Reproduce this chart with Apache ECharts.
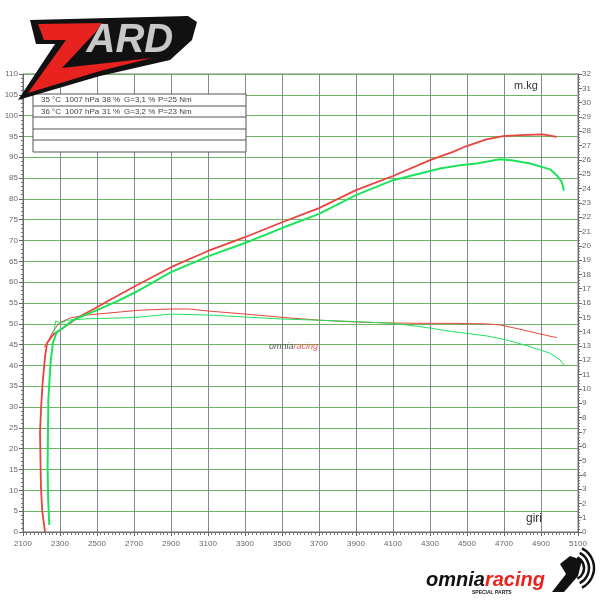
<!DOCTYPE html>
<html>
<head>
<meta charset="utf-8">
<script src="https://cdn.jsdelivr.net/npm/echarts@6/dist/echarts.min.js"></script>
<style>
  html, body { margin: 0; padding: 0; background: #fff; }
  #chart { width: 600px; height: 600px; }
</style>
</head>
<body>
<div id="chart"></div>
<script>
// run 1 (red) and run 2 (green): power on the left axis, torque (m.kg) on the right one
const powerRpm1 = [2219, 2204, 2197, 2192, 2198, 2206, 2219, 2230, 2262, 2316, 2392, 2480, 2559, 2700, 2900, 3100, 3300, 3500, 3700, 3900, 4100, 4300, 4424, 4498, 4606, 4694, 4786, 4911, 4985]
const powerVal1 = [0, 5, 10.8, 23.8, 30, 35.8, 42, 45.4, 47.3, 49, 51.4, 53.5, 55.5, 58.9, 63.6, 67.5, 70.8, 74.4, 77.8, 82.1, 85.5, 89.3, 91.3, 92.7, 94.3, 95.1, 95.3, 95.5, 94.9]

const powerRpm2 = [2242, 2236, 2233, 2237, 2250, 2262, 2282, 2316, 2370, 2500, 2613, 2700, 2900, 3100, 3300, 3500, 3700, 3900, 4100, 4246, 4354, 4462, 4552, 4678, 4749, 4841, 4949, 4985, 5012, 5024]
const powerVal2 = [1.7, 8, 15.6, 31.7, 41.3, 45.4, 48, 49, 50.9, 53.3, 55.5, 57.4, 62.4, 66.2, 69.4, 73, 76.4, 80.9, 84.5, 86.1, 87.3, 88.1, 88.5, 89.5, 89.2, 88.5, 87.1, 85.7, 84.1, 82]

const torqueRpm1 = [2214, 2230, 2262, 2295, 2354, 2446, 2732, 2900, 3000, 3100, 3300, 3500, 3700, 3900, 4100, 4246, 4424, 4606, 4678, 4786, 4894, 4985]
const torqueVal1 = [12.9, 13.2, 14.0, 14.6, 14.95, 15.16, 15.5, 15.58, 15.58, 15.44, 15.23, 15.0, 14.8, 14.67, 14.6, 14.58, 14.58, 14.54, 14.47, 14.17, 13.84, 13.58]

const torqueRpm2 = [2265, 2277, 2284, 2311, 2338, 2450, 2624, 2732, 2900, 3100, 3300, 3500, 3700, 3900, 4100, 4246, 4424, 4606, 4714, 4841, 4949, 5003, 5024]
const torqueVal2 = [13.8, 14.74, 14.8, 14.6, 14.8, 14.9, 14.95, 15.02, 15.23, 15.16, 15.02, 14.88, 14.8, 14.7, 14.58, 14.35, 14.0, 13.7, 13.42, 12.95, 12.49, 12.02, 11.67]

const tableRows = [
  ['35 °C', '1007 hPa', '38 %', 'G=3,1 %', 'P=25 Nm'],
  ['36 °C', '1007 hPa', '31 %', 'G=3,2 %', 'P=23 Nm']
]

const red = '#e8443e'
const green = '#1ee35a'
const labelColor = '#666'
const font = 'Liberation Sans'

const pairs = (xs, ys) => xs.map((x, i) => [x, ys[i]])

const chart = echarts.init(document.getElementById('chart'))

const axisBase = {
  axisLine: { show: true, lineStyle: { color: '#666', width: 1 } },
  axisTick: { show: true, length: 4, lineStyle: { color: '#666' } },
  axisLabel: { color: labelColor, fontSize: 8, fontFamily: font, formatter: v => String(v) }
}

const lineSeries = (name, data, color, width, yAxisIndex) => ({
  name,
  type: 'line',
  yAxisIndex,
  data,
  showSymbol: false,
  symbol: 'none',
  lineStyle: { color, width },
  z: width > 1.5 ? 4 : 3
})

// column positions of the conditions table
const colX = [41, 65, 102, 124, 158]

chart.setOption({
  animation: false,
  grid: {
    show: true,
    left: 23,
    right: 22,
    top: 74,
    bottom: 68,
    borderColor: '#777',
    borderWidth: 1,
    backgroundColor: '#fff'
  },
  xAxis: Object.assign({}, axisBase, {
    type: 'value',
    min: 2100,
    max: 5100,
    interval: 200,
    minorTick: { show: true, splitNumber: 10, length: 3, lineStyle: { color: '#777' } },
    axisLabel: Object.assign({}, axisBase.axisLabel, { margin: 8 }),
    splitLine: { show: true, lineStyle: { color: '#7f8898', width: 1 } }
  }),
  yAxis: [
    Object.assign({}, axisBase, {
      type: 'value',
      min: 0,
      max: 110,
      interval: 5,
      position: 'left',
      minorTick: { show: true, splitNumber: 5, length: 2, lineStyle: { color: '#777' } },
      axisLabel: Object.assign({}, axisBase.axisLabel, { margin: 5 }),
      splitLine: { show: true, lineStyle: { color: '#6cb560', width: 1.2 } }
    }),
    Object.assign({}, axisBase, {
      type: 'value',
      min: 0,
      max: 32,
      interval: 1,
      position: 'right',
      minorTick: { show: true, splitNumber: 5, length: 2, lineStyle: { color: '#777' } },
      axisLabel: Object.assign({}, axisBase.axisLabel, { margin: 4 }),
      splitLine: { show: false }
    })
  ],
  series: [
    lineSeries('power 1', pairs(powerRpm1, powerVal1), red, 1.8, 0),
    lineSeries('power 2', pairs(powerRpm2, powerVal2), green, 2, 0),
    lineSeries('torque 1', pairs(torqueRpm1, torqueVal1), red, 1, 1),
    lineSeries('torque 2', pairs(torqueRpm2, torqueVal2), green, 1, 1)
  ],
  graphic: [
    // conditions table
    { type: 'rect', shape: { x: 33, y: 94, width: 213, height: 58 }, style: { fill: '#fff', stroke: '#555', lineWidth: 1 }, z: 10 },
    ...[106, 117, 129, 140].map(y => ({
      type: 'line', shape: { x1: 33, y1: y, x2: 246, y2: y }, style: { stroke: '#555', lineWidth: 1 }, z: 10
    })),
    ...tableRows.flatMap((row, i) => row.map((cell, j) => ({
      type: 'text', left: colX[j], top: 96 + i * 11.5, z: 11,
      style: { text: cell, fill: '#444', fontSize: 8, fontFamily: font }
    }))),
    { type: 'text', left: 514, top: 80, z: 11, style: { text: 'm.kg', fill: '#333', fontSize: 11, fontFamily: font } },
    { type: 'text', left: 526, top: 513, z: 11, style: { text: 'giri', fill: '#333', fontSize: 12, fontFamily: font } },
    // watermark in the middle
    {
      type: 'text', left: 269, top: 342, z: 11,
      style: {
        text: '{a|omnia}{b|racing}',
        rich: {
          a: { fill: '#555', fontSize: 9, fontStyle: 'italic', fontFamily: font },
          b: { fill: '#e05a55', fontSize: 9, fontStyle: 'italic', fontFamily: font }
        }
      }
    },
    // ZARD logo, top left
    { type: 'polygon', z: 20, shape: { points: [[30, 20], [188, 16], [197, 22], [192, 40], [170, 60], [100, 76], [18, 100], [55, 44], [36, 44]] }, style: { fill: '#111' } },
    { type: 'polygon', z: 21, shape: { points: [[38, 24], [104, 23], [62, 68], [152, 58], [100, 71], [28, 93], [66, 40], [44, 40]] }, style: { fill: '#e8231f' } },
    { type: 'text', left: 86, top: 20, z: 22, style: { text: 'ARD', fill: '#c8c8c8', stroke: '#222', lineWidth: 1, fontSize: 40, fontWeight: 'bold', fontStyle: 'italic', fontFamily: font } },
    // omniaracing logo, bottom right
    {
      type: 'text', left: 426, top: 570, z: 20,
      style: {
        text: '{a|omnia}{b|racing}',
        rich: {
          a: { fill: '#111', fontSize: 20, fontWeight: 'bold', fontStyle: 'italic', fontFamily: font },
          b: { fill: '#e8231f', fontSize: 20, fontWeight: 'bold', fontStyle: 'italic', fontFamily: font }
        }
      }
    },
    { type: 'text', left: 472, top: 590, z: 20, style: { text: 'SPECIAL PARTS', fill: '#222', fontSize: 5, fontWeight: 'bold', fontFamily: font } },
    { type: 'polygon', z: 20, shape: { points: [[552, 592], [566, 574], [560, 564], [570, 556], [582, 560], [578, 576], [564, 592]] }, style: { fill: '#111' } },
    ...[0, 1, 2].map(i => ({
      type: 'arc', z: 20,
      shape: { cx: 572, cy: 568, r: 12 + i * 5, startAngle: -1.1, endAngle: 1.1 },
      style: { stroke: '#111', lineWidth: 2.5, fill: null }
    }))
  ]
})
</script>
</body>
</html>
